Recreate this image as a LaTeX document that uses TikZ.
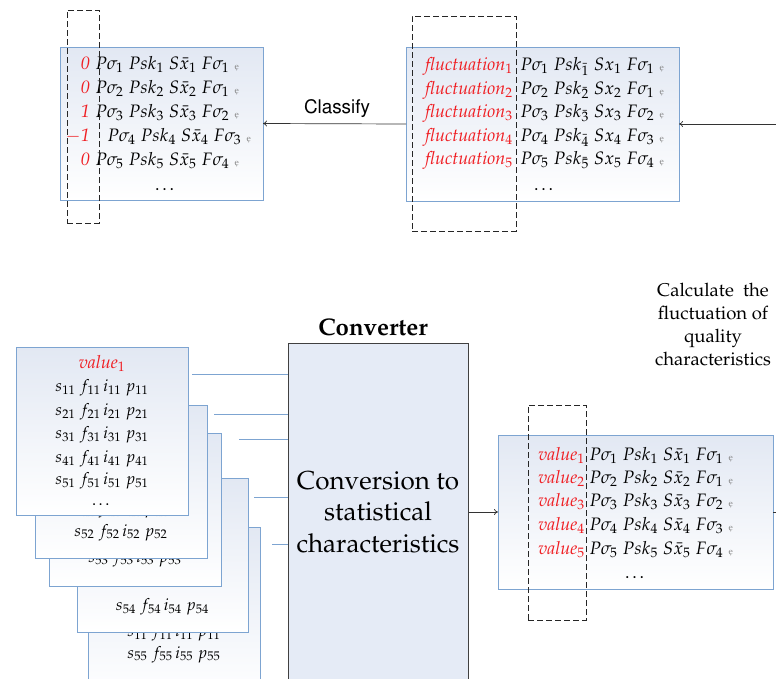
\documentclass[tikz,border=0pt]{standalone}
\usepackage[T1]{fontenc}
\usepackage{mathpazo}
\usepackage[scaled=0.92]{helvet}
\usetikzlibrary{arrows.meta}
\definecolor{boxblue}{HTML}{7DA4D1}
\definecolor{boxtop}{HTML}{E2E8F3}
\definecolor{convfill}{HTML}{E5EBF6}
\definecolor{redtxt}{HTML}{F01E23}
\newcommand{\tailmark}{\hspace{0.3em}{\color{gray}\fontsize{9}{9}\selectfont\k{e}}}
\newcommand{\rowL}[2]{$P\sigma_{#1}\;Psk_{#1}\;S\bar{x}_{#1}\;F\sigma_{#2}$\tailmark}
\newcommand{\rowM}[2]{$P\sigma_{#1}\;Psk_{\bar{#1}}\;Sx_{#1}\;F\sigma_{#2}$\tailmark}
\newcommand{\sfip}[1]{$s_{#1}\;f_{#1}\,i_{#1}\;p_{#1}$}
\begin{document}
\begin{tikzpicture}[x=1pt,y=-1pt,
 panel/.style={draw=boxblue,line width=0.9pt,top color=boxtop,bottom color=white,anchor=north west,inner sep=0pt,outer sep=0pt},
 txt/.style={inner sep=0pt,font=\fontsize{18}{21}\selectfont},
 stx/.style={inner sep=0pt,font=\fontsize{16.5}{20}\selectfont,anchor=base},
 redt/.style={txt,text=redtxt,anchor=base east},
 blk/.style={txt,anchor=base west},
 ctr/.style={txt,anchor=base},
 dashbox/.style={draw=black!85,line width=0.9pt,dash pattern=on 6pt off 3pt,anchor=north west,inner sep=0pt,outer sep=0pt},
 link/.style={draw=boxblue,line width=0.9pt},
 arr/.style={draw=black!80,line width=0.7pt,-{To[length=4pt,width=6pt]}},
 plain/.style={draw=black!80,line width=0.7pt}]
\useasboundingbox (0,0) rectangle (776,678);
\clip (0,0) rectangle (776,678);

% ---------- top left panel ----------
\node[panel,minimum width=203pt,minimum height=153pt] (left) at (60,47) {};
\foreach \i/\v/\f/\xs/\y in {1/0/1/95/69,2/0/1/95/93,3/1/2/95/117,4/{$-$1}/3/107/141,5/0/4/95/165}{
  \node[redt,name=Lr\i] at (90,\y) {\itshape\v};
  \node[blk,name=Lb\i] at (\xs,\y) {\rowL{\i}{\f}};
}
\node[ctr] (Ldots) at (166,190) {\dots};
\node[dashbox,minimum width=32pt,minimum height=213pt] (dl) at (67,10) {};

% ---------- top middle panel ----------
\node[panel,minimum width=273pt,minimum height=154pt] (mid) at (406,47) {};
\foreach \i/\f/\y in {1/1/70,2/1/94,3/2/117,4/3/141,5/4/164}{
  \node[redt,name=Mr\i] at (513,\y) {\itshape fluctuation$_{\i}$};
  \node[blk,name=Mb\i] at (520,\y) {\rowM{\i}{\f}};
}
\node[ctr] (Mdots) at (545,190) {\dots};
\node[dashbox,minimum width=104pt,minimum height=215pt] (dm) at (412,16) {};

% arrows top
\coordinate (tin) at (790,124);
\draw[arr] (tin) -- (mid.east);
\draw[arr] (mid.west) -- (left.east);
\node[inner sep=0pt,font=\sffamily\fontsize{20.5}{24}\selectfont] (classify) at (337,109) {Classify};

% ---------- label right ----------
\node[inner sep=0pt,align=center,font=\fontsize{18.5}{23}\selectfont] (calc) at (713,324)
  {Calculate\ \ the\\fluctuation of\\quality\\characteristics};

% ---------- stacked input panels ----------
\node[panel,minimum width=172pt,minimum height=170pt] (b5) at (88,527) {};
\node[stx] (b5a) at (b5.center |- 0,636) {\sfip{11}};
\node[stx] (b5b) at (b5.center |- 0,658) {\sfip{55}};

\node[panel,minimum width=171pt,minimum height=154pt] (b4) at (77,478) {};
\node[stx] (b4a) at (b4.center |- 0,585) {\dots};
\node[stx] (b4b) at (b4.center |- 0,610) {\sfip{54}};

\node[panel,minimum width=172pt,minimum height=153pt] (b3) at (49,433) {};
\node[stx] (b3a) at (b3.center |- 0,562) {\sfip{53}};

\node[panel,minimum width=172pt,minimum height=153pt] (b2) at (35,405) {};
\node[stx] (b2a) at (b2.center |- 0,513) {\sfip{42}};
\node[stx] (b2b) at (b2.center |- 0,536) {\sfip{52}};

\node[panel,minimum width=172pt,minimum height=168pt] (b1) at (16,347) {};
\node[ctr,text=redtxt] (b1v) at (b1.center |- 0,368) {\itshape value$_1$};
\foreach \k/\y in {1/391,2/415,3/438,4/462,5/484}{
  \node[stx,name=b1r\k] at (b1.center |- 0,\y) {\sfip{\k1}};
}
\node[stx] (b1d) at (b1.center |- 0,505) {\dots};

% ---------- converter ----------
\node[draw=black!75,line width=0.8pt,fill=convfill,minimum width=180pt,minimum height=360pt,anchor=north west,inner sep=0pt] (conv) at (288,343) {};
\node[inner sep=0pt,font=\bfseries\fontsize{24}{27}\selectfont] (convtitle) at (373,327) {Converter};
\node[inner sep=0pt,align=center,font=\fontsize{26}{31.5}\selectfont] (convtxt) at (378,512)
  {Conversion to\\statistical\\characteristics};

% links from stack
\coordinate (s1) at (192,374);
\coordinate (s2) at (214,414);
\coordinate (s3) at (239,439);
\coordinate (s4) at (254,497);
\coordinate (s5) at (272,544);
\foreach \c in {s1,s2,s3,s4,s5}{ \draw[link] (\c) -- (\c -| conv.west); }

% ---------- right panel ----------
\node[panel,minimum width=275pt,minimum height=154pt] (right) at (498,435) {};
\foreach \i/\f/\y in {1/1/460,2/1/483,3/2/506,4/3/530,5/4/554}{
  \node[redt,name=Rr\i] at (585,\y) {\itshape value$_{\i}$};
  \node[blk,name=Rb\i] at (589,\y) {\rowL{\i}{\f}};
}
\node[ctr] (Rdots) at (636,578) {\dots};
\node[dashbox,minimum width=58pt,minimum height=215pt] (dr) at (528,405) {};

\draw[arr] (conv.east |- right.west) -- (right.west);
\coordinate (rout) at (790,512);
\draw[plain] (right.east) -- (rout);
\end{tikzpicture}
\end{document}
